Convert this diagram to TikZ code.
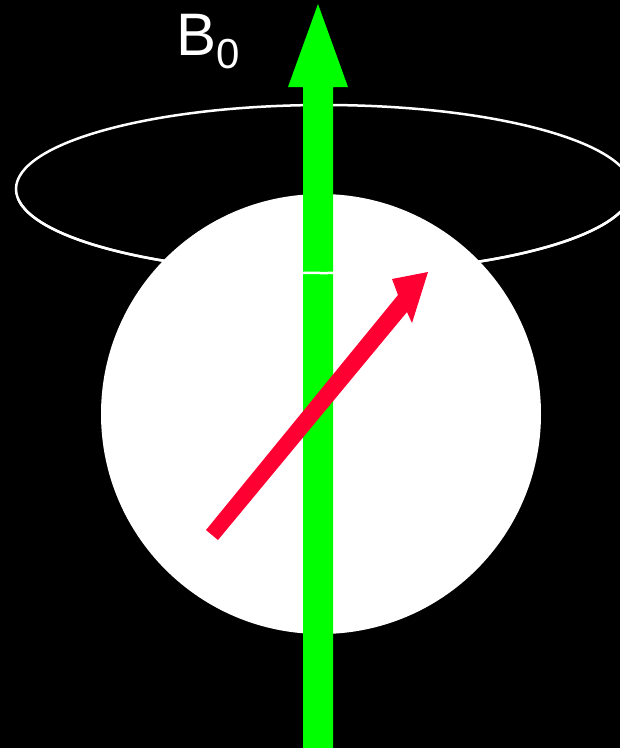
\documentclass[tikz,border=0pt]{standalone}
\usepackage{fontspec}
\setmainfont{Liberation Sans}
\definecolor{bgreen}{RGB}{0,255,0}
\definecolor{bred}{RGB}{255,0,51}
\begin{document}
\begin{tikzpicture}[x=1pt,y=-1pt,
  ring/.style={draw=white,line width=2.5pt}]
\useasboundingbox (0,0) rectangle (620,748);
\begin{scope}
\clip (0,0) rectangle (620,748);
\fill[black] (0,0) rectangle (620,748);
% precession ellipse (back)
\draw[ring] (324,189) ellipse [x radius=308, y radius=84];
% sphere
\fill[white] (321,414) circle [radius=220];
% B0 field arrow
\fill[bgreen] (303,748) -- (303,87) -- (288,87) -- (318,4) -- (348,87) -- (333,87) -- (333,748) -- cycle;
% ellipse front part
\begin{scope}
  \clip (0,200) rectangle (620,300);
  \draw[ring] (324,189) ellipse [x radius=308, y radius=84];
\end{scope}
% magnetic moment arrow
\fill[bred] (206,530) -- (398,295) -- (392,279) -- (428,272) -- (412,323) -- (407,312) -- (218,540) -- cycle;
\end{scope}
% label
\node[anchor=base west,inner sep=0pt,text=white] (lab) at (176,55)
  {\fontsize{60}{60}\selectfont B\raisebox{-13pt}{\fontsize{42}{42}\selectfont 0}};
\end{tikzpicture}
\end{document}
